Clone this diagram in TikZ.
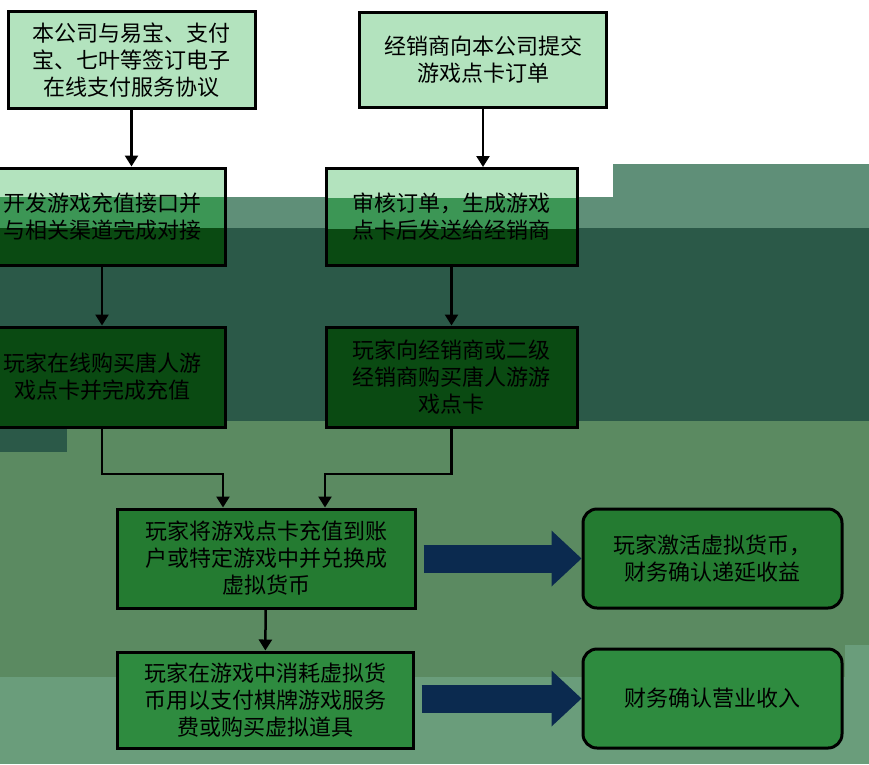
\documentclass[tikz,border=0pt]{standalone}
\usepackage{fontspec}
\newfontfamily\cjk{Noto Sans CJK SC}
\usetikzlibrary{arrows.meta}
\definecolor{bandA}{HTML}{5F8F78}
\definecolor{bandB}{HTML}{2B5948}
\definecolor{bandC}{HTML}{5B8A61}
\definecolor{bandD}{HTML}{6A9D7B}
\definecolor{lightbox}{HTML}{B3E3BE}
\definecolor{midstrip}{HTML}{3C9655}
\definecolor{darkbox}{HTML}{0A4A12}
\definecolor{midbox}{HTML}{247B31}
\definecolor{greenbox}{HTML}{2E8B3F}
\definecolor{navy}{HTML}{0B2A4F}
\tikzset{
  box/.style={draw=black, text=black, line width=3pt, align=center, inner sep=0pt,
    minimum width=247pt, minimum height=97pt,
    font=\cjk\fontsize{22}{27}\selectfont},
  strips/.style={path picture={
    \fill[lightbox] (path picture bounding box.north west) rectangle ([yshift=-29pt]path picture bounding box.north east);
    \fill[midstrip] ([yshift=-29pt]path picture bounding box.north west) rectangle ([yshift=-60pt]path picture bounding box.north east);}},
  arr/.style={line width=2.5pt, -{Triangle[length=11pt,width=13pt]}},
  big/.style={line width=28pt, draw=navy, shorten <=7pt,
    -{Triangle[length=30pt,width=56pt,line width=0pt]}}
}

\begin{document}
\begin{tikzpicture}[x=1pt,y=-1pt]
    \useasboundingbox (0,0) rectangle (869,764);
    \clip (0,0) rectangle (869,764);
    % background bands
    \fill[white] (0,0) rectangle (869,764);
    \fill[bandA] (0,197) rectangle (869,228);
    \fill[bandA] (613,164) rectangle (869,197);
    \fill[bandB] (0,228) rectangle (869,421);
    \fill[bandC] (0,421) rectangle (869,677);
    \fill[bandB] (0,421) rectangle (67,452);
    \fill[bandD] (0,677) rectangle (869,764);
    \fill[bandD] (845,645) rectangle (869,677);

    \node[box, fill=lightbox] (s1) at (131.5,60) {本公司与易宝、支付\\宝、七叶等签订电子\\在线支付服务协议};
    \node[box, fill=lightbox, minimum height=95pt] (s2) at (483,59.5) {经销商向本公司提交\\游戏点卡订单};
    \node[box, fill=darkbox, strips] (s3) at (102,216.5) {开发游戏充值接口并\\与相关渠道完成对接};
    \node[box, fill=darkbox, strips, minimum width=251pt] (s4) at (451.5,217) {审核订单，生成游戏\\点卡后发送给经销商};
    \node[box, fill=darkbox, minimum height=100pt] (s5) at (102,377) {玩家在线购买唐人游\\戏点卡并完成充值};
    \node[box, fill=darkbox, minimum width=251pt, minimum height=100pt] (s6) at (451.5,377) {玩家向经销商或二级\\经销商购买唐人游游\\戏点卡};
    \node[box, fill=midbox, minimum width=298pt, minimum height=99pt] (s7) at (266,558.5) {玩家将游戏点卡充值到账\\户或特定游戏中并兑换成\\虚拟货币};
    \node[box, fill=midbox, rounded corners=14pt, minimum width=259pt, minimum height=99pt] (s8) at (712.5,558.5) {玩家激活虚拟货币，\\财务确认递延收益};
    \node[box, fill=greenbox, minimum width=296pt, minimum height=96pt] (s9) at (265,700) {玩家在游戏中消耗虚拟货\\币用以支付棋牌游戏服务\\费或购买虚拟道具};
    \node[box, fill=greenbox, rounded corners=14pt, minimum width=259pt, minimum height=99pt] (s10) at (712.5,698.5) {财务确认营业收入};

    \coordinate (j1) at (223,474);
    \coordinate (j2) at (325,474);
    \draw[arr] (s1.south) -- (s1.south |- s3.north);
    \draw[arr] (s2.south) -- (s2.south |- s4.north);
    \draw[arr] (s3) -- (s5);
    \draw[arr] (s4) -- (s6);
    \draw[arr] (s5.south) |- (j1) -- (j1 |- s7.north);
    \draw[arr] (s6.south) |- (j2) -- (j2 |- s7.north);
    \draw[arr] (s7) -- (s9);
    \draw[big] (s7) -- (s8);
    \draw[big] (s9.east |- s10) -- (s10);
\end{tikzpicture}
\end{document}
